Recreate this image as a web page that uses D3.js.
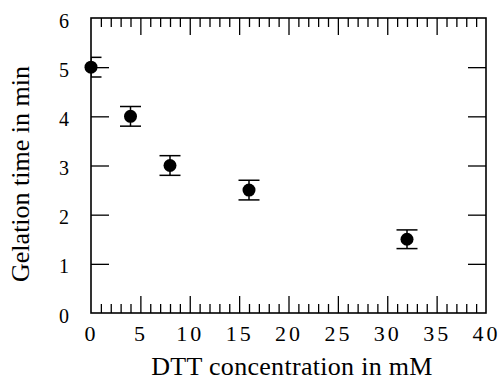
<!DOCTYPE html>
<html>
<head>
<meta charset="utf-8">
<script src="https://cdn.jsdelivr.net/npm/d3@7"></script>
<style>
  body { margin: 0; background: #fff; }
  text { font-family: "Liberation Serif", "Times New Roman", serif; fill: #000; }
</style>
</head>
<body>
<div id="chart"></div>
<script>
// DTT concentration (mM) vs gelation time (min)
var concentration = [0, 4, 8, 16, 32];
var gelationTime = [5, 4, 3, 2.5, 1.5];
var timeError = [0.2, 0.2, 0.2, 0.2, 0.19];

var xMajorTicks = [0, 5, 10, 15, 20, 25, 30, 35, 40];
var xMinorTicks = [1, 2, 3, 4, 6, 7, 8, 9, 11, 12, 13, 14, 16, 17, 18, 19, 21, 22, 23, 24, 26, 27, 28, 29, 31, 32, 33, 34, 36, 37, 38, 39];
var yTicks = [0, 1, 2, 3, 4, 5, 6];

var width = 499, height = 380;
var margin = {top: 18, right: 13, bottom: 67, left: 91};
var w = width - margin.left - margin.right,
    h = height - margin.top - margin.bottom;

var svg = d3.select("#chart")
  .append("svg")
  .attr("width", width)
  .attr("height", height)
  .append("g")
  .attr("transform", "translate(" + margin.left + "," + margin.top + ")");

var x = d3.scaleLinear().domain([0, 40]).range([0, w]);
var y = d3.scaleLinear().domain([0, 6]).range([h, 0]);

svg.append("clipPath")
  .attr("id", "plotClip")
  .append("rect")
  .attr("x", 0).attr("y", 0)
  .attr("width", w).attr("height", h);

// inward ticks, all four sides
function tickAxis(axis, pos) {
  var g = svg.append("g").attr("transform", pos).call(axis);
  g.select(".domain").remove();
  g.selectAll("line").attr("stroke", "#000").attr("stroke-width", 1.3);
  return g;
}
var inner = function(v) { return v > 0 && v < 40; };
tickAxis(d3.axisBottom(x).tickValues(xMajorTicks.filter(inner)).tickSize(-17).tickFormat(""), "translate(0," + h + ")");
tickAxis(d3.axisBottom(x).tickValues(xMinorTicks).tickSize(-9).tickFormat(""), "translate(0," + h + ")");
tickAxis(d3.axisTop(x).tickValues(xMajorTicks.filter(inner)).tickSize(-17).tickFormat(""), "translate(0,0)");
tickAxis(d3.axisTop(x).tickValues(xMinorTicks).tickSize(-9).tickFormat(""), "translate(0,0)");
var yInner = yTicks.filter(function(v) { return v > 0 && v < 6; });
tickAxis(d3.axisLeft(y).tickValues(yInner).tickSize(-18).tickFormat(""), "translate(0,0)");
tickAxis(d3.axisRight(y).tickValues(yInner).tickSize(-18).tickFormat(""), "translate(" + w + ",0)");

// frame
svg.append("rect")
  .attr("x", 0).attr("y", 0)
  .attr("width", w).attr("height", h)
  .attr("fill", "none")
  .attr("stroke", "#000")
  .attr("stroke-width", 1.6);

// tick labels
var xLab = svg.append("g")
  .attr("transform", "translate(0," + h + ")")
  .call(d3.axisBottom(x).tickValues(xMajorTicks).tickSize(0).tickPadding(12).tickFormat(d3.format("d")));
xLab.select(".domain").remove();
xLab.selectAll("text")
  .attr("font-family", "Liberation Serif")
  .attr("font-size", 22)
  .attr("letter-spacing", 3);

var yLab = svg.append("g")
  .call(d3.axisLeft(y).tickValues(yTicks).tickSize(0).tickPadding(22).tickFormat(d3.format("d")));
yLab.select(".domain").remove();
yLab.selectAll("text")
  .attr("font-family", "Liberation Serif")
  .attr("font-size", 20)
  .attr("dy", "0.45em");

// error bars (clipped by the frame, like the original)
var bars = svg.append("g")
  .attr("clip-path", "url(#plotClip)")
  .selectAll("g")
  .data(concentration)
  .enter().append("g");

bars.append("line")
  .attr("x1", function(d) { return x(d); })
  .attr("x2", function(d) { return x(d); })
  .attr("y1", function(d, i) { return y(gelationTime[i] + timeError[i]); })
  .attr("y2", function(d, i) { return y(gelationTime[i] - timeError[i]); })
  .attr("stroke", "#000").attr("stroke-width", 1.5);

[1, -1].forEach(function(s) {
  bars.append("line")
    .attr("x1", function(d) { return x(d) - 10.5; })
    .attr("x2", function(d) { return x(d) + 10.5; })
    .attr("y1", function(d, i) { return y(gelationTime[i] + s * timeError[i]); })
    .attr("y2", function(d, i) { return y(gelationTime[i] + s * timeError[i]); })
    .attr("stroke", "#000").attr("stroke-width", 1.5);
});

svg.append("g")
  .selectAll("circle")
  .data(concentration)
  .enter().append("circle")
  .attr("cx", function(d) { return x(d); })
  .attr("cy", function(d, i) { return y(gelationTime[i]); })
  .attr("r", 6.5)
  .attr("fill", "#000");

// axis titles
svg.append("text")
  .attr("x", 292 - margin.left)
  .attr("y", 374.5 - margin.top)
  .attr("text-anchor", "middle")
  .attr("font-size", 26)
  .attr("letter-spacing", 0.3)
  .text("DTT concentration in mM");

svg.append("text")
  .attr("transform", "translate(" + (29 - margin.left) + "," + (174 - margin.top) + ") rotate(-90)")
  .attr("text-anchor", "middle")
  .attr("font-size", 26)
  .text("Gelation time in min");
</script>
</body>
</html>
